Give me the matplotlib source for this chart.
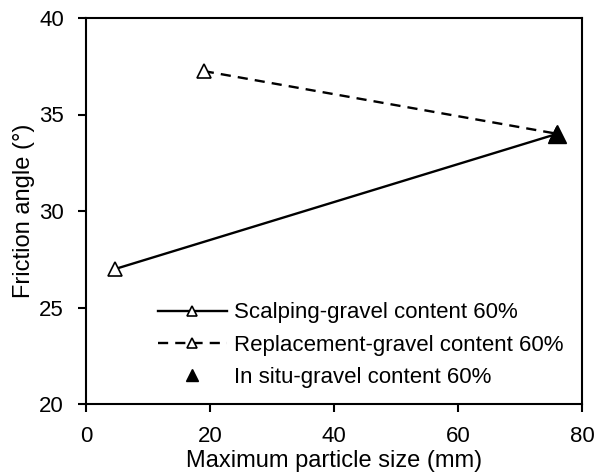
import matplotlib
matplotlib.use("Agg")
import matplotlib.pyplot as plt

plt.rcParams['font.family'] = ['Liberation Sans', 'DejaVu Sans']

scalp_x = [4.75, 76]
scalp_y = [27.0, 34.0]
repl_x = [19, 76]
repl_y = [37.25, 34.0]
insitu_x = [76]
insitu_y = [34.0]

labels = ["Scalping-gravel content 60%", "Replacement-gravel content 60%", "In situ-gravel content 60%"]

fig = plt.figure(figsize=(5.97, 4.75), dpi=100)
ax = fig.add_axes([86/597, 1-404/475, (582-86)/597, (404-18)/475])

ax.plot(scalp_x, scalp_y, '-', color='black', lw=1.7, marker='^', ms=10.5,
        mfc='white', mec='black', mew=1.2, label=labels[0])
ax.plot(repl_x, repl_y, '--', color='black', lw=1.7, dashes=(4.3, 3.0), marker='^', ms=10.5,
        mfc='white', mec='black', mew=1.2, label=labels[1])
ax.plot(insitu_x, insitu_y, linestyle='none', color='black', marker='^', ms=12.5,
        mfc='black', mec='black', label=labels[2])

ax.set_xlim(0, 80)
ax.set_ylim(20, 40)
ax.set_xticks([0, 20, 40, 60, 80])
ax.set_yticks([20, 25, 30, 35, 40])
ax.tick_params(direction='out', length=5.8, width=1.5, labelsize=16, colors='black', pad=10)
for s in ax.spines.values():
    s.set_linewidth(1.5)
ax.set_xlabel("Maximum particle size (mm)", fontsize=17, labelpad=2.5)
ax.set_ylabel("Friction angle (°)", fontsize=17, labelpad=3)

ax.legend(loc='center left', bbox_to_anchor=((158-86)/496, (404-345)/386), frameon=False,
          fontsize=16, markerscale=0.72, handlelength=3.1, labelspacing=0.5,
          handletextpad=0.3, borderpad=0, borderaxespad=0)

fig.savefig("out.png", dpi=100)
